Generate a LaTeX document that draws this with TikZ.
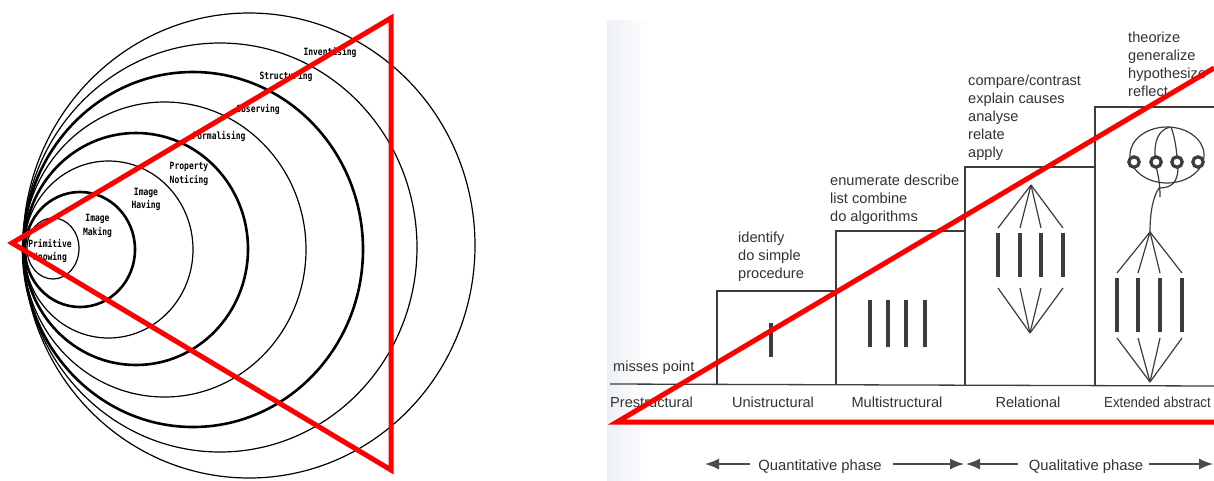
\documentclass[tikz,border=0pt]{standalone}
\usepackage{fontspec}
\usepackage{graphicx}
\setmainfont{Liberation Sans}
\newfontfamily\monof[FakeStretch=0.8]{DejaVu Sans Mono}
\usetikzlibrary{arrows.meta}
\definecolor{ink}{HTML}{333333}
\definecolor{gline}{HTML}{3C3C3C}
\definecolor{arrowgrey}{HTML}{4A4A4A}
\definecolor{pagegrey}{HTML}{EDF0F5}
\tikzset{
  thinring/.style={draw=black, line width=1.2pt},
  thickring/.style={draw=black, line width=2.6pt},
  lvl/.style={font=\monof\bfseries\fontsize{10}{13.5}\selectfont, align=center, inner sep=0pt, text=black},
  rtxt/.style={font=\fontsize{14.6}{18}\selectfont, text=ink, anchor=base west, inner sep=0pt},
  ctxt/.style={font=\fontsize{14.6}{18}\selectfont, text=ink, anchor=base, inner sep=0pt},
  ptxt/.style={font=\fontsize{14.8}{18}\selectfont, text=ink, anchor=base, inner sep=0pt},
  boxline/.style={draw=gline, line width=1.3pt},
  fanline/.style={draw=gline, line width=1.2pt},
  barline/.style={draw=gline, line width=3.6pt},
  phasearrow/.style={draw=arrowgrey, line width=1.5pt, -{Latex[length=14pt,width=11pt]}},
  redline/.style={draw=red, line width=5pt, line join=miter},
  ringc/.style={draw=gline, line width=3.2pt, fill=white}
}
\begin{document}
\begin{tikzpicture}[x=1pt,y=-1pt]
\useasboundingbox (0,0) rectangle (1214,480);
\clip (0,0) rectangle (1214,480);
\fill[white] (0,0) rectangle (1214,480);

% ---------- left panel: nested circles ----------
\draw[thinring]  (249,245.5) ellipse [x radius=226pt, y radius=232.5pt];
\draw[thinring]  (220,247.5) ellipse [x radius=197pt, y radius=204.5pt];
\draw[thickring] (193,249.5) ellipse [x radius=170pt, y radius=177.5pt];
\draw[thinring]  (164.5,249.5) ellipse [x radius=141.5pt, y radius=147.5pt];
\draw[thickring] (136,249) ellipse [x radius=112pt, y radius=116pt];
\draw[thinring]  (108.5,249.5) ellipse [x radius=84.5pt, y radius=88.5pt];
\draw[thickring] (80,249.5) ellipse [x radius=55pt, y radius=57.5pt];
\draw[thinring]  (53,248.5) ellipse [x radius=26pt, y radius=30.5pt];

\node[lvl] (pk) at (50,251) {Primitive\\Knowing};
\node[lvl] (im) at (97.5,226) {Image\\Making};
\node[lvl] (ih) at (146,199.5) {Image\\Having};
\node[lvl] (pn) at (189,174) {Property\\Noticing};
\node[lvl] (fo) at (219,136) {Formalising};
\node[lvl] (ob) at (258,109) {Observing};
\node[lvl] (st) at (286,76) {Structuring};
\node[lvl] (iv) at (330,52) {Inventising};

\draw[redline] (12,243) -- (391,18) -- (391,470) -- cycle;

% ---------- right panel ----------
\shade[left color=pagegrey, right color=white] (607,20) rectangle (650,480);

% staircase
\draw[boxline] (610,384) -- (1214,386);
\draw[boxline] (717,384) -- (717,291) -- (836,291);
\draw[boxline] (836,384.5) -- (836,231) -- (965,231);
\draw[boxline] (965,385) -- (965,167) -- (1095,167);
\draw[boxline] (1095,385.5) -- (1095,107) -- (1214,107);

% unistructural
\draw[barline] (771,323) -- (771,357);
% multistructural
\foreach \x in {870,888,906,925} \draw[barline] (\x,300) -- (\x,347);
% relational
\coordinate (ra) at (1031,185);
\coordinate (rb) at (1030,333);
\foreach \x in {998,1020,1041,1063} {
  \draw[fanline] (ra) -- (\x,228);
  \draw[barline] (\x,233) -- (\x,277);
  \draw[fanline] (\x,288) -- (rb);
}
% extended abstract
\coordinate (ea) at (1150,232);
\coordinate (eb) at (1150,382);
\foreach \x in {1117,1138,1160,1182} {
  \draw[fanline] (ea) -- (\x,273);
  \draw[barline] (\x,278) -- (\x,332);
  \draw[fanline] (\x,338) -- (eb);
}
\draw[fanline] (ea) .. controls (1150,212) and (1153,197) .. (1159,188);
\draw[fanline] (1167,155) ellipse [x radius=37pt, y radius=28pt];
\draw[fanline] (1170,127) .. controls (1158,130) and (1154,142) .. (1155,157);
\draw[fanline] (1171,127) .. controls (1174,135) and (1176,145) .. (1177,157);
\draw[fanline] (1156,166) .. controls (1158,175) and (1160,182) .. (1160,197);
\draw[fanline] (1159,188) .. controls (1172,188) and (1178,182) .. (1178,167);
\foreach \x in {1134,1156,1177,1198} \draw[ringc] (\x,162) circle [radius=5.2pt];

% texts above
\node[rtxt] (mp) at (613,371) {misses point};
\node[rtxt] (u1) at (738,242) {identify};
\node[rtxt] (u2) at (738,260) {do simple};
\node[rtxt] (u3) at (738,278) {procedure};
\node[rtxt] (m1) at (830,185) {enumerate describe};
\node[rtxt] (m2) at (830,203) {list combine};
\node[rtxt] (m3) at (830,221) {do algorithms};
\node[rtxt] (r1) at (968,85) {compare/contrast};
\node[rtxt] (r2) at (968,103) {explain causes};
\node[rtxt] (r3) at (968,121) {analyse};
\node[rtxt] (r4) at (968,139) {relate};
\node[rtxt] (r5) at (968,157) {apply};
\node[rtxt] (e1) at (1128,42) {theorize};
\node[rtxt] (e2) at (1128,60) {generalize};
\node[rtxt] (e3) at (1128,78) {hypothesize};
\node[rtxt] (e4) at (1128,96) {reflect};

% level names
\node[rtxt] (pre) at (610,407) {Prestructural};
\node[ctxt] (uni) at (773,407) {Unistructural};
\node[ctxt] (mul) at (897,407) {Multistructural};
\node[ctxt] (rel) at (1028,407) {Relational};
\node[rtxt] (ext) at (1104,407) {\scalebox{0.905}[1]{Extended abstract}};

% phases
\node[ptxt] (qn) at (820,470) {Quantitative phase};
\node[ptxt] (ql) at (1086,470) {Qualitative phase};
\coordinate (qa) at (705,464);
\coordinate (qb) at (964,464);
\coordinate (qc) at (966,464);
\coordinate (qd) at (1213,464);
\draw[phasearrow] (750,464) -- (qa);
\draw[phasearrow] (893,464) -- (qb);
\draw[phasearrow] (1018,464) -- (qc);
\draw[phasearrow] (1149,464) -- (qd);

% red overlay
\draw[redline] (1214,422) -- (617,422) -- (1214,68);
\end{tikzpicture}
\end{document}
